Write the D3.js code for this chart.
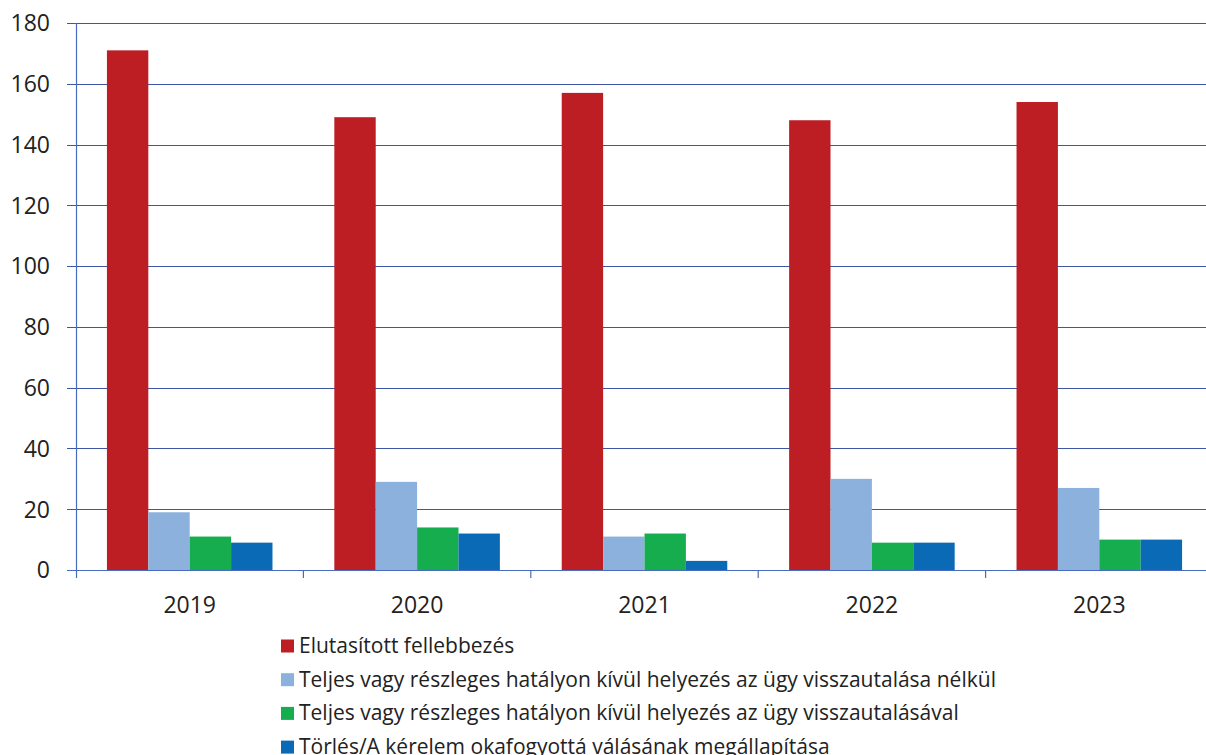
<!DOCTYPE html>
<html>
<head>
<meta charset="utf-8">
<script src="https://cdn.jsdelivr.net/npm/d3@7"></script>
<style>
  body { margin: 0; background: #fff; }
  text { font-family: "Open Sans", "Noto Sans", sans-serif; fill: #222; }
</style>
</head>
<body>
<div id="chart"></div>
<script>
var years = ["2019", "2020", "2021", "2022", "2023"];
var seriesNames = [
  "Elutasított fellebbezés",
  "Teljes vagy részleges hatályon kívül helyezés az ügy visszautalása nélkül",
  "Teljes vagy részleges hatályon kívül helyezés az ügy visszautalásával",
  "Törlés/A kérelem okafogyottá válásának megállapítása"
];
var elutasitott = [171, 149, 157, 148, 154];
var nelkul = [19, 29, 11, 30, 27];
var visszautalassal = [11, 14, 12, 9, 10];
var torles = [9, 12, 3, 9, 10];
var yTicks = [0, 20, 40, 60, 80, 100, 120, 140, 160, 180];
var colors = ["#bc1e24", "#8db1dd", "#15ad4e", "#0a6ab5"];

var allSeries = [elutasitott, nelkul, visszautalassal, torles];

var svgWidth = 1206;
var svgHeight = 755;

var svg = d3.select("#chart")
  .append("svg")
  .attr("width", svgWidth)
  .attr("height", svgHeight);

// plot area (right side runs a little past the picture edge)
var plotLeft = 76, plotRight = 1213, plotTop = 23, plotBottom = 570;

var x0 = d3.scaleBand()
  .domain(years)
  .range([plotLeft, plotRight])
  .paddingInner(0.272)
  .paddingOuter(0.136);

var x1 = d3.scaleBand()
  .domain(d3.range(seriesNames.length))
  .range([0, x0.bandwidth()]);

var y = d3.scaleLinear()
  .domain([0, 180])
  .range([plotBottom, plotTop]);

// gridlines
svg.append("g")
  .selectAll("line")
  .data(yTicks)
  .enter()
  .append("line")
  .attr("x1", plotLeft - 9)
  .attr("x2", svgWidth)
  .attr("y1", d => Math.round(y(d)) + 0.5)
  .attr("y2", d => Math.round(y(d)) + 0.5)
  .attr("stroke", "#3d57a3")
  .attr("stroke-width", 1);

// y tick labels
svg.append("g")
  .selectAll("text")
  .data(yTicks)
  .enter()
  .append("text")
  .attr("x", 50)
  .attr("y", d => y(d))
  .attr("dy", "0.36em")
  .attr("text-anchor", "end")
  .attr("font-size", 23)
  .text(d => d);

// bars
var groups = svg.append("g")
  .selectAll("g")
  .data(years)
  .enter()
  .append("g")
  .attr("transform", d => `translate(${x0(d)},0)`);

groups.selectAll("rect")
  .data((d, i) => allSeries.map((s, k) => ({k: k, v: s[i]})))
  .enter()
  .append("rect")
  .attr("x", d => x1(d.k))
  .attr("width", x1.bandwidth())
  .attr("y", d => y(d.v))
  .attr("height", d => y(0) - y(d.v))
  .attr("fill", d => colors[d.k]);

// axes
svg.append("line")
  .attr("x1", plotLeft + 0.5).attr("x2", plotLeft + 0.5)
  .attr("y1", plotTop).attr("y2", plotBottom + 8)
  .attr("stroke", "#4a6cc0").attr("stroke-width", 1.2);

svg.append("line")
  .attr("x1", plotLeft - 9).attr("x2", svgWidth)
  .attr("y1", plotBottom + 0.5).attr("y2", plotBottom + 0.5)
  .attr("stroke", "#4a6cc0").attr("stroke-width", 1.2);

var step = x0.step();
svg.append("g")
  .selectAll("line")
  .data(years.slice(1))
  .enter()
  .append("line")
  .attr("x1", (d, i) => plotLeft + step * (i + 1))
  .attr("x2", (d, i) => plotLeft + step * (i + 1))
  .attr("y1", plotBottom)
  .attr("y2", plotBottom + 8)
  .attr("stroke", "#4a6cc0").attr("stroke-width", 1.2);

// x labels
svg.append("g")
  .selectAll("text")
  .data(years)
  .enter()
  .append("text")
  .attr("x", d => x0(d) + x0.bandwidth() / 2)
  .attr("y", 613)
  .attr("text-anchor", "middle")
  .attr("font-size", 23)
  .text(d => d);

// legend
var legend = svg.append("g")
  .selectAll("g")
  .data(seriesNames)
  .enter()
  .append("g")
  .attr("transform", (d, i) => `translate(281, ${646 + i * 33.7})`);

legend.append("rect")
  .attr("x", 0)
  .attr("y", -6.5)
  .attr("width", 13)
  .attr("height", 13)
  .attr("fill", (d, i) => colors[i]);

legend.append("text")
  .attr("x", 18)
  .attr("y", 0)
  .attr("dy", "0.33em")
  .attr("font-size", 21)
  .attr("fill", "#333")
  .text(d => d);
</script>
</body>
</html>
